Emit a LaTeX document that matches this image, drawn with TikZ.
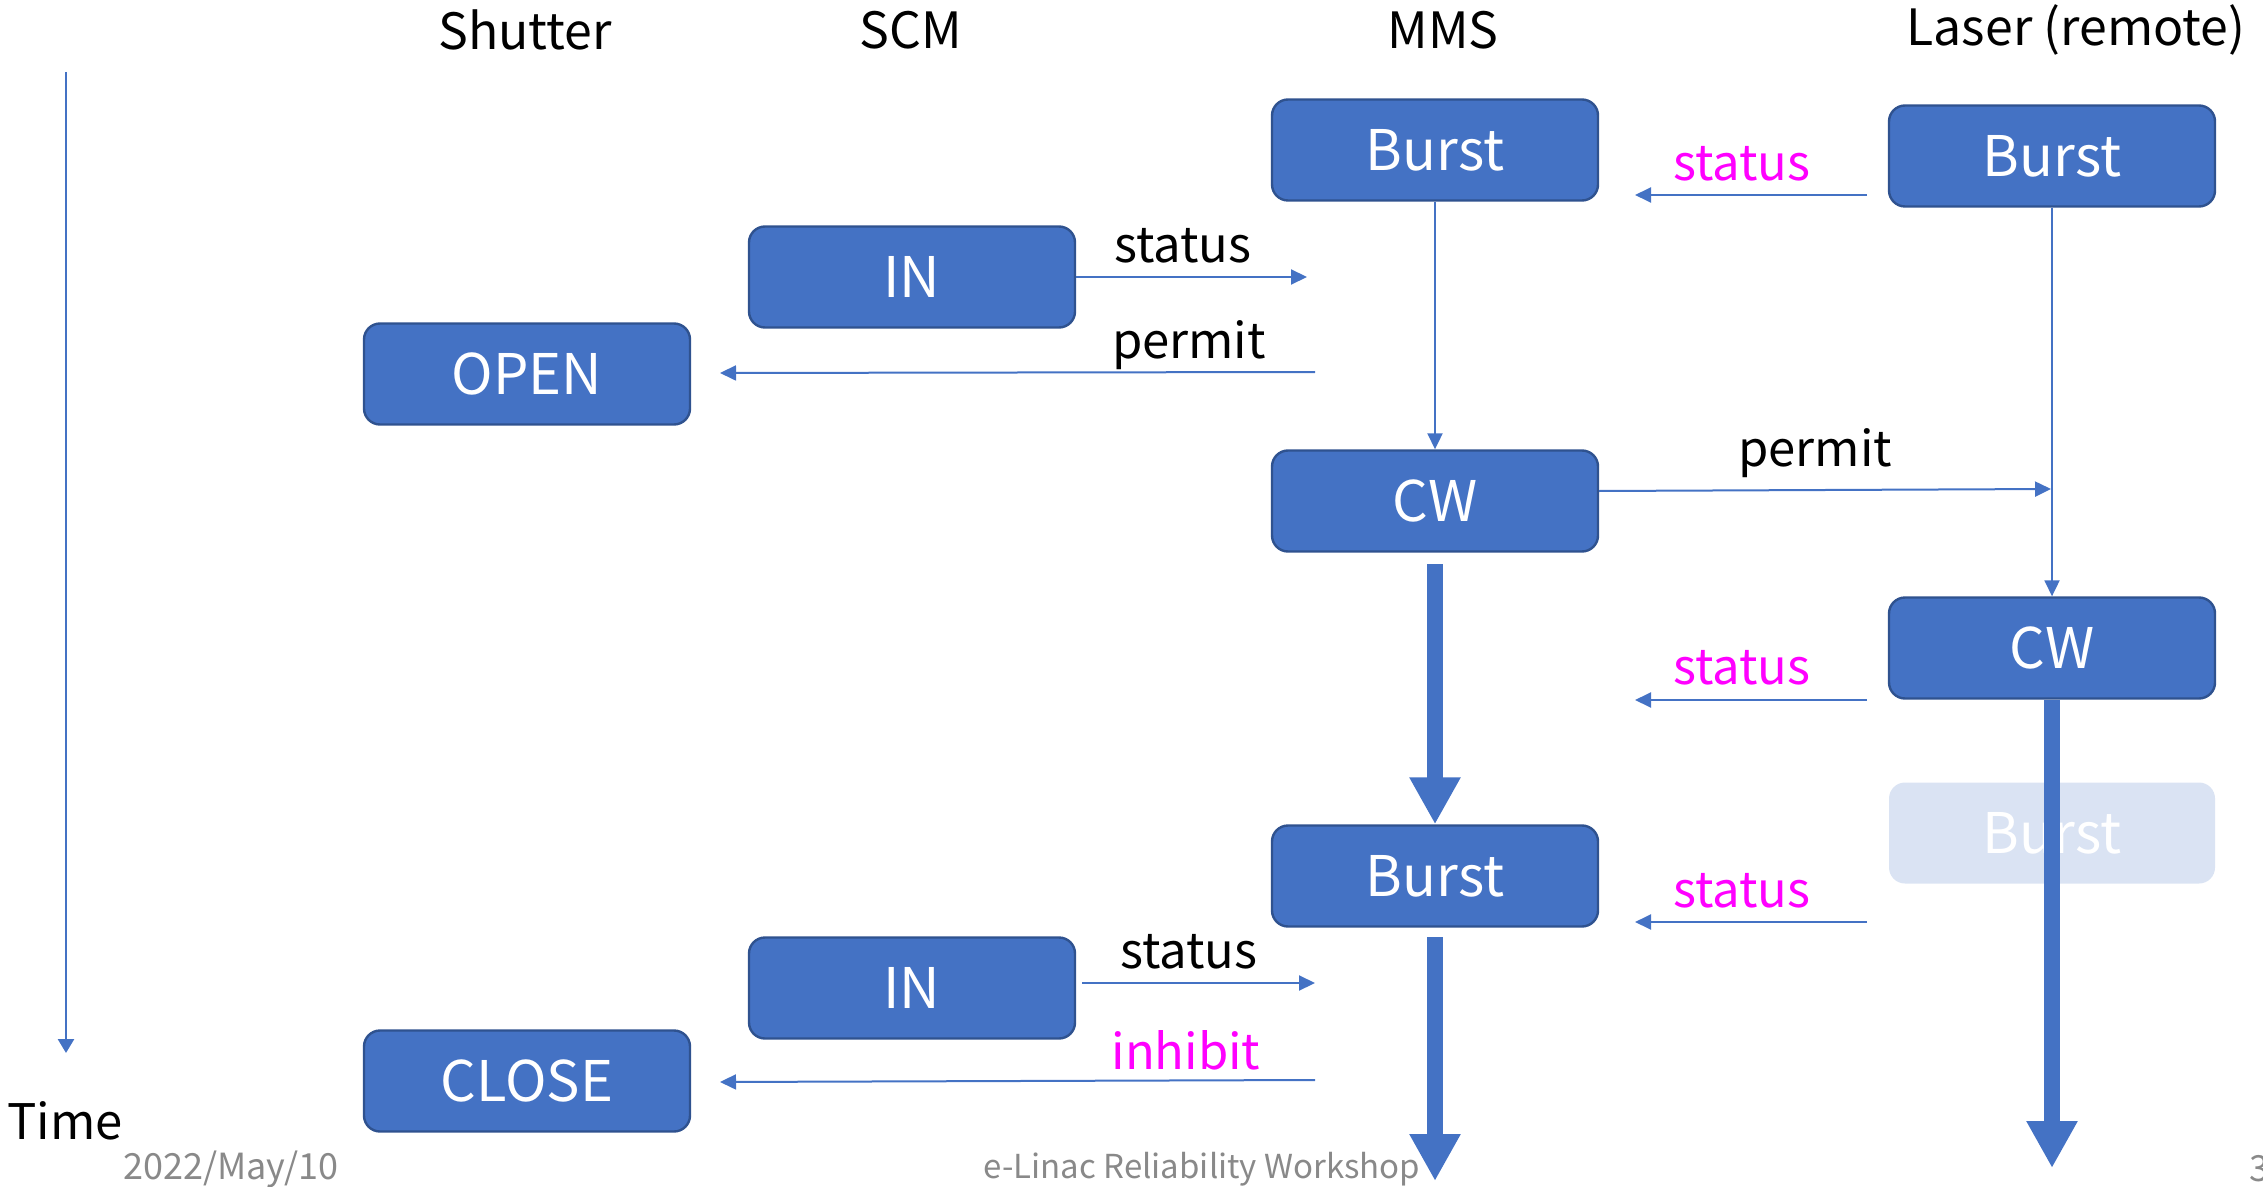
\documentclass[tikz,border=0pt]{standalone}
\usepackage{fontspec}
\setmainfont{Noto Sans CJK JP}
\usetikzlibrary{arrows.meta,calc}
\definecolor{boxblue}{HTML}{4472C4}
\definecolor{boxedge}{HTML}{2F528F}
\definecolor{fadedblue}{HTML}{DAE3F3}
\definecolor{msgpink}{HTML}{FF00FF}
\definecolor{footgray}{HTML}{898989}

\begin{document}
\begin{tikzpicture}[x=0.5pt,y=-0.5pt,
  state/.style={draw=boxedge, line width=1.2pt, fill=boxblue, rounded corners=8pt,
    minimum width=163pt, minimum height=50.5pt, inner sep=0pt, text=white,
    font=\fontsize{28}{34}\selectfont},
  ghost/.style={state, draw=none, fill=fadedblue},
  head/.style={inner sep=0pt, font=\fontsize{25}{30}\selectfont},
  lbl/.style={inner sep=0pt, font=\fontsize{24.5}{29}\selectfont},
  alert/.style={lbl, text=msgpink},
  msg/.style={draw=boxblue, line width=1pt, -{Triangle[width=7.5pt,length=8pt]}},
  flow/.style={draw=boxblue, line width=8pt, -{Triangle[width=24pt,length=23.5pt]}},
  foot/.style={inner sep=0pt, text=footgray, font=\fontsize{18}{22}\selectfont}]

\useasboundingbox (0,0) rectangle (2263,1187);

% column headings
\node[head] (hshut) at (525,30) {Shutter};
\node[head] (hscm) at (911,30) {SCM};
\node[head] (hmms) at (1443,30) {MMS};
\node[head] (hlas) at (2076,30) {Laser (remote)};

% time axis
\coordinate (t0) at (66,72);
\coordinate (t1) at (66,1053);
\draw[boxblue, line width=1.3pt, -{Triangle[width=8pt,length=7pt]}] (t0) -- (t1);
\node[lbl] (tlabel) at (65,1121) {Time};

% faded state (drawn first, the laser flow passes over it)
\node[ghost] (lghost) at (2052,833) {Burst};

% states
\node[state] (mb1) at (1435,150) {Burst};
\node[state] (lb1) at (2052,156) {Burst};
\node[state] (in1) at (912,277) {IN};
\node[state] (open) at (527,374) {OPEN};
\node[state] (mcw) at (1435,501) {CW};
\node[state] (lcw) at (2052,648) {CW};
\node[state] (mb2) at (1435,876) {Burst};
\node[state] (in2) at (912,988) {IN};
\node[state] (close) at (527,1081) {CLOSE};

% message end points
\coordinate (s1a) at (1867,195);  \coordinate (s1b) at (1635,195);
\coordinate (s2b) at (1307,277);
\coordinate (p1a) at (1315,372);  \coordinate (p1b) at (720,373);
\coordinate (p2b) at (2051,489);
\coordinate (s3a) at (1867,700);  \coordinate (s3b) at (1635,700);
\coordinate (s4a) at (1867,922);  \coordinate (s4b) at (1635,922);
\coordinate (s5a) at (1082,983);  \coordinate (s5b) at (1315,983);
\coordinate (i1a) at (1315,1080); \coordinate (i1b) at (720,1082);

% messages
\draw[msg] (s1a) -- (s1b);
\node[alert] (ls1) at (1742,164) {status};
\draw[msg] (in1.east) -- (s2b);
\node[lbl] (ls2) at (1183,246) {status};
\draw[msg] (p1a) -- (p1b);
\node[lbl] (lp1) at (1189,345) {permit};
\draw[msg] (mb1.south) -- (mcw.north);
\draw[msg] (lb1.south) -- (lcw.north);
\draw[msg] ([yshift=5pt]mcw.east) -- (p2b);
\node[lbl] (lp2) at (1815,453) {permit};
\draw[msg] (s3a) -- (s3b);
\node[alert] (ls3) at (1742,668) {status};
\draw[msg] (s4a) -- (s4b);
\node[alert] (ls4) at (1742,891) {status};
\draw[msg] (s5a) -- (s5b);
\node[lbl] (ls5) at (1189,952) {status};
\draw[msg] (i1a) -- (i1b);
\node[alert] (li1) at (1186,1050) {inhibit};

% continuing states
\coordinate (f1a) at (1435,564);
\coordinate (f2a) at (1435,937);  \coordinate (f2b) at (1435,1181);
\coordinate (f3b) at (2052,1168);
\draw[flow] (f1a) -- (mb2.north);
\draw[flow] (f2a) -- (f2b);
\draw[flow] (lcw.south) -- (f3b);

% footer
\node[foot] (fdate) at (231,1169) {2022/May/10};
\node[foot, font=\fontsize{16.5}{20}\selectfont] (fname) at (1202,1169) {e-Linac Reliability Workshop};
\node[foot, anchor=west] (fpage) at (2249,1169) {3};
\end{tikzpicture}
\end{document}
